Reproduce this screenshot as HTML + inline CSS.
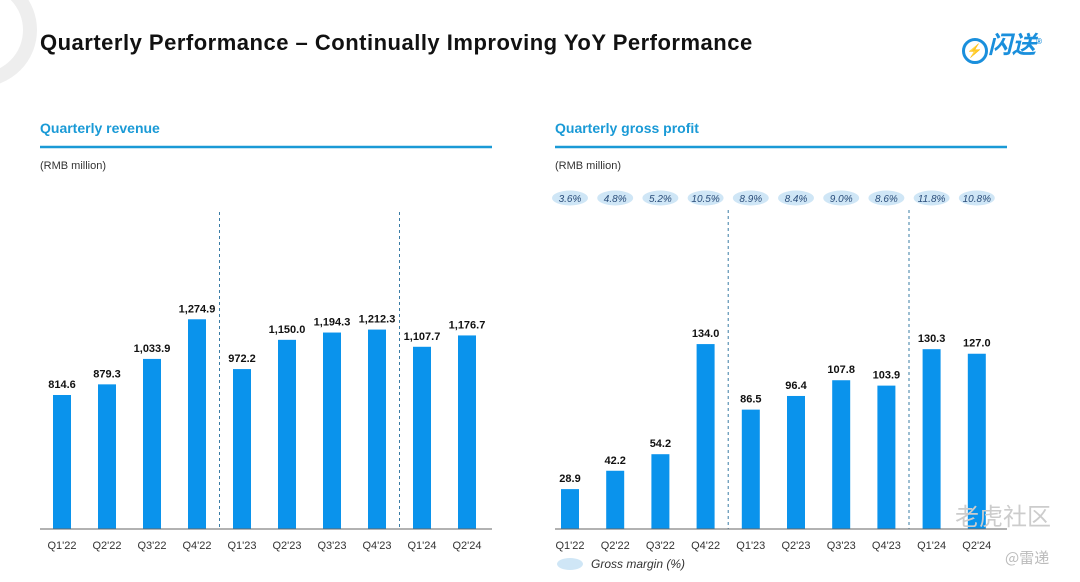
<!DOCTYPE html>
<html><head><meta charset="utf-8"><style>
body{margin:0;width:1080px;height:582px;background:#fff;font-family:"Liberation Sans","Noto Sans CJK SC",sans-serif;overflow:hidden;position:relative}
.abs{position:absolute}
</style></head><body>
<svg class="abs" style="left:0;top:0" width="60" height="90"><circle cx="-20" cy="30" r="50" fill="none" stroke="#eee" stroke-width="14"/></svg>
<div class="abs" style="left:40px;top:30px;font-size:22px;font-weight:bold;color:#111;letter-spacing:0.5px">Quarterly Performance – Continually Improving YoY Performance</div>
<div class="abs" style="left:962px;top:27px;font-size:24px;font-weight:bold;color:#1a8fdc;font-style:italic;line-height:30px"><span style="display:inline-block;width:20px;height:20px;border:3px solid #1a8fdc;border-radius:50%;vertical-align:-2px;text-align:center;font-size:13px;line-height:20px;color:#f5b800;font-style:normal">⚡</span><span style="font-family:'Noto Sans CJK SC',sans-serif">闪送</span><sup style="font-size:8px">®</sup></div>
<svg id="c" class="abs" style="left:0;top:0" width="1080" height="582"></svg>
<script>
const cats=["Q1'22","Q2'22","Q3'22","Q4'22","Q1'23","Q2'23","Q3'23","Q4'23","Q1'24","Q2'24"];
const revenue=[814.6,879.3,1033.9,1274.9,972.2,1150.0,1194.3,1212.3,1107.7,1176.7];
const grossProfit=[28.9,42.2,54.2,134.0,86.5,96.4,107.8,103.9,130.3,127.0];
const grossMargin=["3.6%","4.8%","5.2%","10.5%","8.9%","8.4%","9.0%","8.6%","11.8%","10.8%"];
const revLabels=["814.6","879.3","1,033.9","1,274.9","972.2","1,150.0","1,194.3","1,212.3","1,107.7","1,176.7"];
const gpLabels=["28.9","42.2","54.2","134.0","86.5","96.4","107.8","103.9","130.3","127.0"];
const svg=document.getElementById('c');const NS='http://www.w3.org/2000/svg';
function mk(t,a,txt){const e=document.createElementNS(NS,t);for(const k in a)e.setAttribute(k,a[k]);if(txt!=null)e.textContent=txt;svg.appendChild(e);return e;}
function chart(o){
 const base=529;
 const x=i=>o.x0+i*o.step;
 const y=v=>base-v*o.scale;
 let e=mk('text',{x:o.left,y:133,'font-size':14,'font-weight':'bold',fill:'#1a9ad6'},o.title);
 
 
 e=mk('line',{x1:o.left,x2:o.left+o.w,y1:147,y2:147,stroke:'#1a9ad6','stroke-width':2.5});
 
 
 e=mk('text',{x:o.left,y:169,'font-size':11,fill:'#333'},'(RMB million)');
 
 
 [3.5,7.5].forEach((p,j)=>{e=mk('line',{x1:x(p),x2:x(p),y1:o.dashTop,y2:base,stroke:'#3a7ca5','stroke-width':1,'stroke-dasharray':'3,3'});
 
 });
 o.vals.forEach((v,i)=>{
  e=mk('rect',{x:x(i)-9,y:y(v),width:18,height:v*o.scale,fill:'#0a93ec'});
  
  
  e=mk('text',{x:x(i),y:y(v)-7,'font-size':11,'font-weight':'bold','text-anchor':'middle',fill:'#111'},o.labels[i]);
  
  
  e=mk('text',{x:x(i),y:549,'font-size':11,'text-anchor':'middle',fill:'#333'},cats[i]);
  
  
 });
 e=mk('line',{x1:o.left,x2:o.left+o.w,y1:base,y2:base,stroke:'#666','stroke-width':1});
 
 
}
chart({key:'revenue',title:'Quarterly revenue',left:40,w:452,x0:62,step:45,scale:0.1645,vals:revenue,labels:revLabels,dashTop:212});
chart({key:'gross-profit',title:'Quarterly gross profit',left:555,w:452,x0:570,step:45.2,scale:1.38,vals:grossProfit,labels:gpLabels,dashTop:210});
grossMargin.forEach((m,i)=>{
 const cx=570+i*45.2;
 let e=mk('ellipse',{cx:cx,cy:198,rx:18,ry:7.5,fill:'#cfe6f6'});
 
 
 e=mk('text',{x:cx,y:202,'font-size':10,'font-style':'italic','text-anchor':'middle',fill:'#2a4d7a'},m);
 
 
});
let e=mk('ellipse',{cx:570,cy:564,rx:13,ry:6,fill:'#cfe6f6'});


e=mk('text',{x:591,y:568,'font-size':12,'font-style':'italic',fill:'#333'},'Gross margin (%)');


e=mk('text',{x:955,y:525,'font-size':24,fill:'#ccc','font-family':'Noto Sans CJK SC,sans-serif'},'老虎社区');


e=mk('text',{x:1005,y:563,'font-size':15,fill:'#bbb','font-family':'Noto Sans CJK SC,sans-serif'},'@雷递');


</script>
</body></html>
